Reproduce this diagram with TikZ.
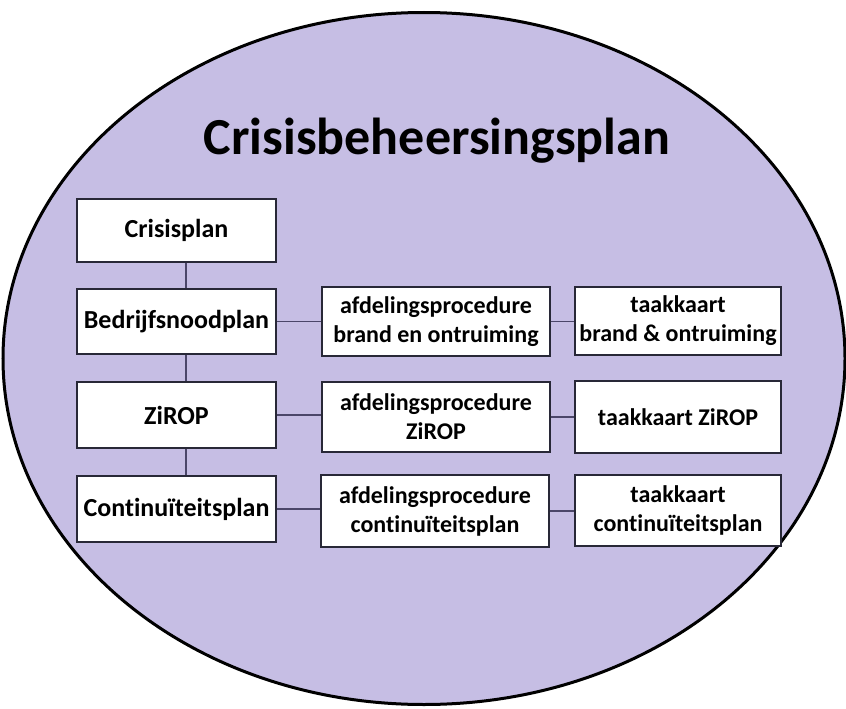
\documentclass[tikz,border=0pt]{standalone}
\usepackage{fontspec}
\setmainfont{Carlito}[Ligatures=NoCommon]
\definecolor{lav}{RGB}{198,190,228}
\definecolor{boxline}{RGB}{40,40,55}
\definecolor{conn}{RGB}{75,70,105}
\begin{document}
\begin{tikzpicture}[x=1pt,y=-1pt,
  box/.style={draw=boxline, line width=1.4pt, fill=white, rectangle, inner sep=0pt, align=center, font=\bfseries\fontsize{24}{29}\selectfont},
  lbox/.style={box, minimum width=199pt, font=\bfseries\fontsize{26}{30}\selectfont},
  mbox/.style={box, minimum width=228pt},
  rbox/.style={box, minimum width=206pt},
  link/.style={draw=conn, line width=1.8pt}]
\useasboundingbox (0,0) rectangle (846,709);
\draw[fill=lav, draw=black, line width=3pt] (424,358.5) ellipse [x radius=421, y radius=346];
\node[anchor=base, font=\bfseries\fontsize{52}{60}\selectfont] (title) at (437,154) {Crisisbeheersingsplan};
% left column
\node[lbox, minimum height=63pt] (crisis) at (176.5,230.5) {Crisisplan};
\node[lbox, minimum height=65pt] (bed) at (176.5,321.5) {Bedrijfsnoodplan};
\node[lbox, minimum height=66pt] (zirop) at (176.5,415) {ZiROP};
\node[lbox, minimum height=66pt] (cont) at (176.5,509) {Continuïteitsplan};
% middle column
\node[mbox, minimum height=69pt] (afdb) at (436,321.5) {afdelingsprocedure\\brand en ontruiming};
\node[mbox, minimum height=70pt] (afdz) at (436,417) {afdelingsprocedure\\ZiROP};
\node[mbox, minimum height=72pt] (afdc) at (435,511) {afdelingsprocedure\\continuïteitsplan};
% right column
\node[rbox, minimum height=68pt] (taakb) at (678,321) {taakkaart\\brand \& ontruiming};
\node[rbox, minimum height=72pt] (taakz) at (678,417) {taakkaart ZiROP};
\node[rbox, minimum height=71pt] (taakc) at (678,510.5) {taakkaart\\continuïteitsplan};
% connectors
\coordinate (vx) at (186,0);
\draw[link] (crisis.south -| vx) -- (bed.north -| vx);
\draw[link] (bed.south -| vx) -- (zirop.north -| vx);
\draw[link] (zirop.south -| vx) -- (cont.north -| vx);
\draw[link] (bed.east) -- (afdb.west |- bed.east);
\draw[link] (afdb.east) -- (taakb.west |- afdb.east);
\draw[link] (zirop.east) -- (afdz.west |- zirop.east);
\draw[link] (afdz.east) -- (taakz.west |- afdz.east);
\draw[link] (cont.east) -- (afdc.west |- cont.east);
\draw[link] (afdc.east) -- (taakc.west |- afdc.east);
\end{tikzpicture}
\end{document}
